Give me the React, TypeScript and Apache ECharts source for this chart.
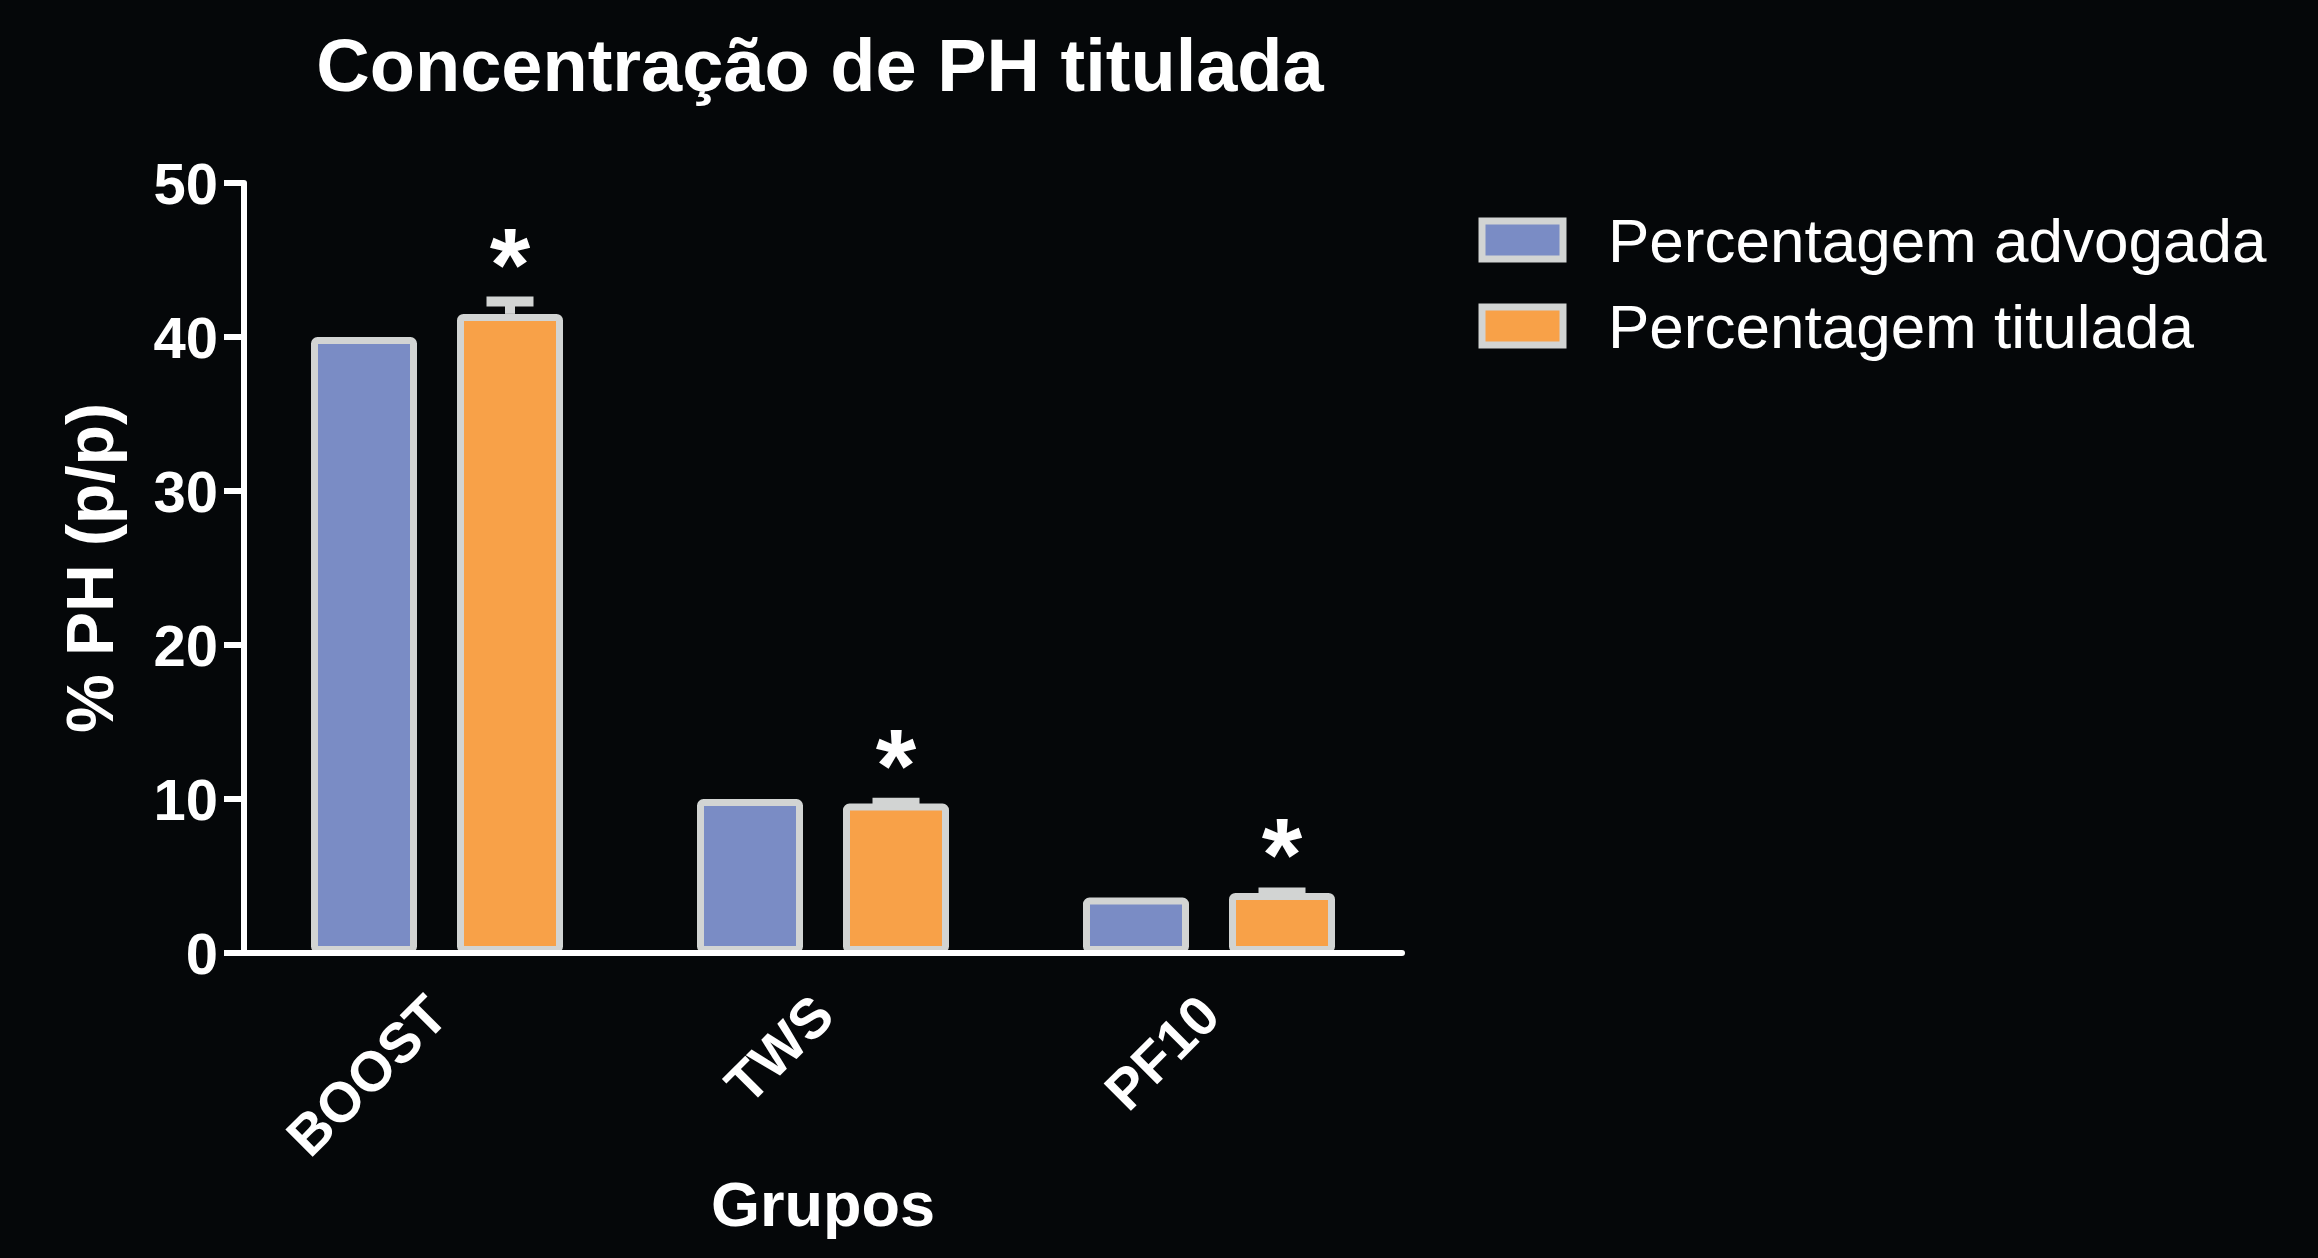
import React, { useEffect, useRef } from 'react';
import * as echarts from 'echarts';

const categories = ['BOOST', 'TWS', 'PF10'];
const seriesNames = ['Percentagem advogada', 'Percentagem titulada'];
const advogada = [40, 10, 3.6];
const titulada = [41.5, 9.7, 3.9];
const tituladaErr = [0.8, 0.05, 0.03];
const significance = ['*', '*', '*'];
const yMin = 0;
const yMax = 50;
const yInterval = 10;

const FONT = '"Liberation Sans", Arial, Helvetica, sans-serif';
const BG = '#050709';
const BLUE = '#7a8cc5';
const ORANGE = '#f8a148';
const GRAY = '#d2d4d3';
const BAR_W = 106;
const BAR_GAP = 40;
const OFFSET = (BAR_W + BAR_GAP) / 2;
const CAP_W = 47;

export default function App() {
  const ref = useRef<HTMLDivElement>(null);
  useEffect(() => {
    document.body.style.margin = '0';
    document.body.style.background = BG;
    const chart = echarts.init(ref.current as HTMLDivElement, null, { renderer: 'svg' });
    const errData = categories.map((c, i) => [i, titulada[i], tituladaErr[i]]);
    chart.setOption({
      animation: false,
      backgroundColor: BG,
      textStyle: { fontFamily: FONT },
      title: {
        text: 'Concentração de PH titulada',
        left: 820,
        top: 28,
        padding: 0,
        textAlign: 'center',
        textStyle: { color: '#ffffff', fontSize: 74, fontWeight: 'bold', fontFamily: FONT },
      },
      legend: {
        data: seriesNames,
        orient: 'vertical',
        left: 1478.5,
        top: 209,
        padding: 0,
        itemGap: 24,
        itemWidth: 81,
        itemHeight: 38,
        icon: 'rect',
        selectedMode: false,
        itemStyle: { borderColor: GRAY, borderWidth: 7 },
        textStyle: { color: '#ffffff', fontSize: 62, fontFamily: FONT, padding: [0, 0, 0, 40] },
      },
      grid: { left: 244, right: 916, top: 183, bottom: 305, containLabel: false },
      xAxis: {
        type: 'category',
        data: categories,
        z: 10,
        name: 'Grupos',
        nameLocation: 'middle',
        nameGap: 218,
        nameTextStyle: { color: '#ffffff', fontSize: 63, fontWeight: 'bold', fontFamily: FONT },
        axisLine: { lineStyle: { color: '#ffffff', width: 6 } },
        axisTick: { alignWithLabel: true, length: 22, lineStyle: { color: '#ffffff', width: 6 } },
        axisLabel: {
          color: '#ffffff',
          fontSize: 56,
          fontWeight: 'bold',
          fontFamily: FONT,
          rotate: 45,
          margin: 52,
          align: 'right',
          verticalAlign: 'middle',
        },
        splitLine: { show: false },
      },
      yAxis: {
        type: 'value',
        min: yMin,
        max: yMax,
        interval: yInterval,
        z: 10,
        name: '% PH (p/p)',
        nameLocation: 'middle',
        nameGap: 121,
        nameTextStyle: { color: '#ffffff', fontSize: 66, fontWeight: 'bold', fontFamily: FONT },
        axisLine: { show: true, lineStyle: { color: '#ffffff', width: 6 } },
        axisTick: { show: true, length: 20, lineStyle: { color: '#ffffff', width: 6 } },
        axisLabel: { color: '#ffffff', fontSize: 58, fontWeight: 'bold', fontFamily: FONT, margin: 26 },
        splitLine: { show: false },
      },
      series: [
        {
          name: seriesNames[0],
          type: 'bar',
          data: advogada,
          barWidth: BAR_W,
          barGap: `${(BAR_GAP / BAR_W) * 100}%`,
          itemStyle: { color: BLUE, borderColor: GRAY, borderWidth: 7, borderRadius: 3 },
        },
        {
          name: seriesNames[1],
          type: 'bar',
          data: titulada,
          barWidth: BAR_W,
          barGap: `${(BAR_GAP / BAR_W) * 100}%`,
          itemStyle: { color: ORANGE, borderColor: GRAY, borderWidth: 7, borderRadius: 3 },
        },
        {
          type: 'custom',
          z: 3,
          data: errData,
          renderItem: (params: any, api: any) => {
            const idx = api.value(0);
            const v = api.value(1);
            const e = api.value(2);
            const base = api.coord([idx, v]);
            const top = api.coord([idx, v + e]);
            const x = base[0] + OFFSET;
            return {
              type: 'group',
              children: [
                { type: 'line', shape: { x1: x, y1: base[1], x2: x, y2: top[1] }, style: { stroke: GRAY, lineWidth: 10 } },
                { type: 'line', shape: { x1: x - CAP_W / 2, y1: top[1], x2: x + CAP_W / 2, y2: top[1] }, style: { stroke: GRAY, lineWidth: 10 } },
                {
                  type: 'text',
                  x: x,
                  y: top[1] - 37,
                  style: {
                    text: significance[params.dataIndex],
                    fill: '#ffffff',
                    font: `bold 104px ${FONT}`,
                    textAlign: 'center',
                    textVerticalAlign: 'middle',
                  },
                },
              ],
            };
          },
        },
      ],
    });
    return () => chart.dispose();
  }, []);
  return <div ref={ref} style={{ width: 2318, height: 1258 }} />;
}
